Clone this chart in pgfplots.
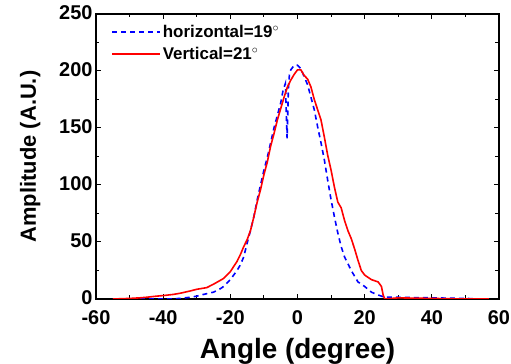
\documentclass[border=0pt]{standalone}
\usepackage{fontspec}
\setmainfont{Liberation Sans}
\usepackage{pgfplots}
\pgfplotsset{compat=1.18}
\begin{document}
\begin{tikzpicture}
\begin{axis}[
  scale only axis, width=403bp, height=285bp,
  xmin=-60, xmax=60, ymin=0, ymax=250,
  xtick={-60,-40,...,60}, ytick={0,50,...,250},
  minor x tick num=1, minor y tick num=1,
  tick align=inside, major tick length=5bp, minor tick length=3.5bp,
  axis line style={line width=1.3bp}, every tick/.style={line width=1bp, black},
  /pgf/number format/assume math mode=true,
  ticklabel style={font=\bfseries\fontsize{20}{22}\selectfont},
  xticklabel style={yshift=-8bp},
  yticklabel style={yshift=1bp},
  xlabel={\bfseries Angle (degree)}, ylabel={\bfseries Amplitude (A.U.)},
  xlabel style={font=\bfseries\fontsize{28}{30}\selectfont, yshift=-7bp},
  ylabel style={font=\bfseries\fontsize{22}{24}\selectfont, yshift=12bp},
  legend style={draw=none, fill=none, at={(0.03,0.975)}, anchor=north west,
    font=\bfseries\fontsize{17}{20}\selectfont, row sep=4bp},
  legend cell align=left,
  legend image code/.code={\draw[#1] (0bp,0bp) -- (48bp,0bp);},
]
\addplot[blue, line width=1.6bp, dash pattern=on 5bp off 4bp] coordinates {
(-55,0) (-45,0) (-38,0) (-35,0.5) (-32,1.5) (-30,2.5) (-28,4) (-25,6) (-23,9) (-22,11)
(-20,17) (-18,25) (-17,30) (-16,37) (-15,49) (-14,60) (-13,72) (-12,87) (-11,100)
(-10,113) (-9,124) (-8,137) (-7,150) (-6,161) (-5,172) (-4.3,183) (-3.6,189)
(-3.1,141) (-2.7,185) (-2.4,197) (-2,201) (-1,205) (0,205) (1,202) (2,195) (3,188)
(4,177) (5,166) (6,151) (7,137) (8,122) (9,104) (10,87) (11,72) (12,58) (13,46)
(14,37) (15,31) (16,25) (17,20) (18,15) (20,11) (22,6) (24,3.5) (26,1.5) (30,1.5)
(40,1) (50,0.5) (55,0)
};
\addlegendentry{horizontal=19$^\circ$}
\addplot[red, line width=1.6bp] coordinates {
(-55,0) (-50,0.5) (-47,1) (-45,1.5) (-42,2.5) (-40,3) (-37,4) (-35,5) (-32,7)
(-30,8.5) (-28,9.5) (-27,10) (-25,13) (-22,18) (-20,24) (-18,33) (-17,39) (-16,46)
(-15,52) (-14,60) (-13,72) (-12,85) (-11,96) (-10,109) (-9,120) (-8,134) (-7,145)
(-6,157) (-5,167) (-4,177) (-3,186) (-2,192) (-1,197) (0,201) (1,201) (2,196)
(3,193) (4,186) (5,175) (6,166) (7,157) (8,142) (9,126) (10,113) (11,98) (12,85)
(13,80) (14,69) (15,60) (16,53) (17,44) (18,34) (19,25) (20,21) (22,17) (24,15)
(25,11) (25.5,3.5) (26,0) (30,1) (40,0.5) (50,0) (57,0)
};
\addlegendentry{Vertical=21$^\circ$}
\end{axis}
\pgfresetboundingbox
\path[use as bounding box] (current axis.south west) ++(-96bp,-65bp) rectangle ([xshift=12bp,yshift=14bp]current axis.north east);
\end{tikzpicture}
\end{document}
